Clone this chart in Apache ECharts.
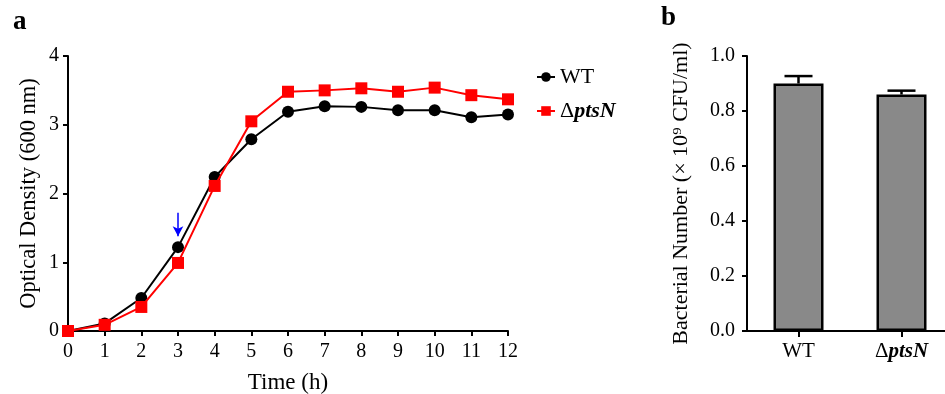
<!DOCTYPE html>
<html>
<head>
<meta charset="utf-8">
<script src="https://cdn.jsdelivr.net/npm/echarts@6/dist/echarts.min.js"></script>
<style>html,body{margin:0;padding:0;background:#fff}#c{width:945px;height:394px}</style>
</head>
<body>
<div id="c"></div>
<script>
// ---- data ----
var hours = [0,1,2,3,4,5,6,7,8,9,10,11,12];
var wtOD = [0,0.11,0.48,1.22,2.24,2.79,3.19,3.27,3.26,3.21,3.21,3.11,3.15];
var ptsNOD = [0,0.09,0.35,0.99,2.11,3.05,3.48,3.50,3.53,3.48,3.54,3.43,3.37];
var arrowFrom = [3, 1.72];
var arrowTo = [3, 1.38];
var strains = ['WT', 'ΔptsN'];
var cfuMean = [0.90, 0.86];
var cfuErr = [0.027, 0.014];

var FONT = '"Liberation Serif","Times New Roman",serif';
function pairs(xs, ys){ return xs.map(function(x,i){ return [x, ys[i]]; }); }
function strainFmt(v){ return v === 'ΔptsN' ? '{n|Δ}{i|ptsN}' : '{n|' + v + '}'; }
var axisLine = {show:true, lineStyle:{color:'#000', width:2}};
var axisTick = {show:true, length:5, lineStyle:{color:'#000', width:2}};

var chart = echarts.init(document.getElementById('c'), null, {renderer:'canvas'});
chart.setOption({
  animation:false,
  backgroundColor:'#fff',
  title:[
    {text:'a', left:8, top:4, textStyle:{fontFamily:FONT, fontWeight:'bold', fontSize:27, color:'#000'}},
    {text:'b', left:656, top:0, textStyle:{fontFamily:FONT, fontWeight:'bold', fontSize:27, color:'#000'}}
  ],
  legend:{
    orient:'vertical', left:531, top:61, itemWidth:18, itemHeight:12, itemGap:12,
    data:['WT','ΔptsN'],
    formatter:strainFmt,
    textStyle:{fontFamily:FONT, fontSize:22, color:'#000',
      rich:{n:{fontFamily:FONT, fontSize:22, color:'#000'},
            i:{fontFamily:FONT, fontSize:22, color:'#000', fontStyle:'italic', fontWeight:'bold'}}}
  },
  grid:[
    {left:68, top:56, width:440, height:275, outerBoundsMode:'none', containLabel:false},
    {left:747, top:56, width:206, height:275, outerBoundsMode:'none', containLabel:false}
  ],
  xAxis:[
    {gridIndex:0, type:'value', min:0, max:12, interval:1,
     name:'Time (h)', nameLocation:'middle', nameGap:40,
     nameTextStyle:{fontFamily:FONT, fontSize:23, color:'#000'},
     axisLine:axisLine, axisTick:axisTick, splitLine:{show:false},
     axisLabel:{fontFamily:FONT, fontSize:20, color:'#000', margin:11}},
    {gridIndex:1, type:'category', data:strains,
     axisLine:axisLine, axisTick:{show:true, alignWithLabel:true, length:6, lineStyle:{color:'#000', width:2}},
     axisLabel:{interval:0, fontFamily:FONT, fontSize:21, color:'#000', margin:10,
       formatter:strainFmt,
       rich:{n:{fontFamily:FONT, fontSize:21, color:'#000'},
             i:{fontFamily:FONT, fontSize:21, color:'#000', fontStyle:'italic', fontWeight:'bold'}}}}
  ],
  yAxis:[
    {gridIndex:0, type:'value', min:0, max:4, interval:1,
     name:'Optical Density (600 nm)', nameLocation:'middle', nameGap:27,
     nameTextStyle:{fontFamily:FONT, fontSize:22.5, color:'#000'},
     axisLine:axisLine, axisTick:axisTick, splitLine:{show:false},
     axisLabel:{fontFamily:FONT, fontSize:20, color:'#000', margin:9}},
    {gridIndex:1, type:'value', min:0, max:1, interval:0.2,
     name:'Bacterial Number (× 10⁹ CFU/ml)', nameLocation:'middle', nameGap:55,
     nameTextStyle:{fontFamily:FONT, fontSize:22, color:'#000'},
     axisLine:axisLine, axisTick:axisTick, splitLine:{show:false},
     axisLabel:{fontFamily:FONT, fontSize:20, color:'#000', margin:12,
       formatter:function(v){ return v.toFixed(1); }}}
  ],
  series:[
    {name:'WT', type:'line', xAxisIndex:0, yAxisIndex:0, data:pairs(hours, wtOD),
     symbol:'circle', symbolSize:12, z:3,
     lineStyle:{color:'#000', width:2}, itemStyle:{color:'#000'},
     markLine:{silent:true, symbol:['none','arrow'], symbolSize:[8,10],
       lineStyle:{color:'#0000ff', width:1.5, type:'solid'}, label:{show:false},
       data:[[{coord:arrowFrom},{coord:arrowTo}]]}},
    {name:'ΔptsN', type:'line', xAxisIndex:0, yAxisIndex:0, data:pairs(hours, ptsNOD),
     symbol:'rect', symbolSize:12, z:4,
     lineStyle:{color:'#ff0000', width:2}, itemStyle:{color:'#ff0000'}},
    {name:'cfu', type:'bar', xAxisIndex:1, yAxisIndex:1, data:cfuMean, barWidth:50,
     itemStyle:{color:'#898989', borderColor:'#000', borderWidth:2.5}},
    {name:'err', type:'custom', xAxisIndex:1, yAxisIndex:1,
     data:cfuMean.map(function(m,i){ return [i, m, cfuErr[i]]; }),
     z:5,
     renderItem:function(params, api){
       var x = api.value(0), m = api.value(1), e = api.value(2);
       var p0 = api.coord([x, m]);
       var p1 = api.coord([x, m + e]);
       var hw = 14;
       return {type:'group', children:[
         {type:'line', shape:{x1:p0[0], y1:p0[1], x2:p1[0], y2:p1[1]}, style:{stroke:'#000', lineWidth:2.5}},
         {type:'line', shape:{x1:p1[0]-hw, y1:p1[1], x2:p1[0]+hw, y2:p1[1]}, style:{stroke:'#000', lineWidth:2.5}}
       ]};
     }}
  ]
});
</script>
</body>
</html>
